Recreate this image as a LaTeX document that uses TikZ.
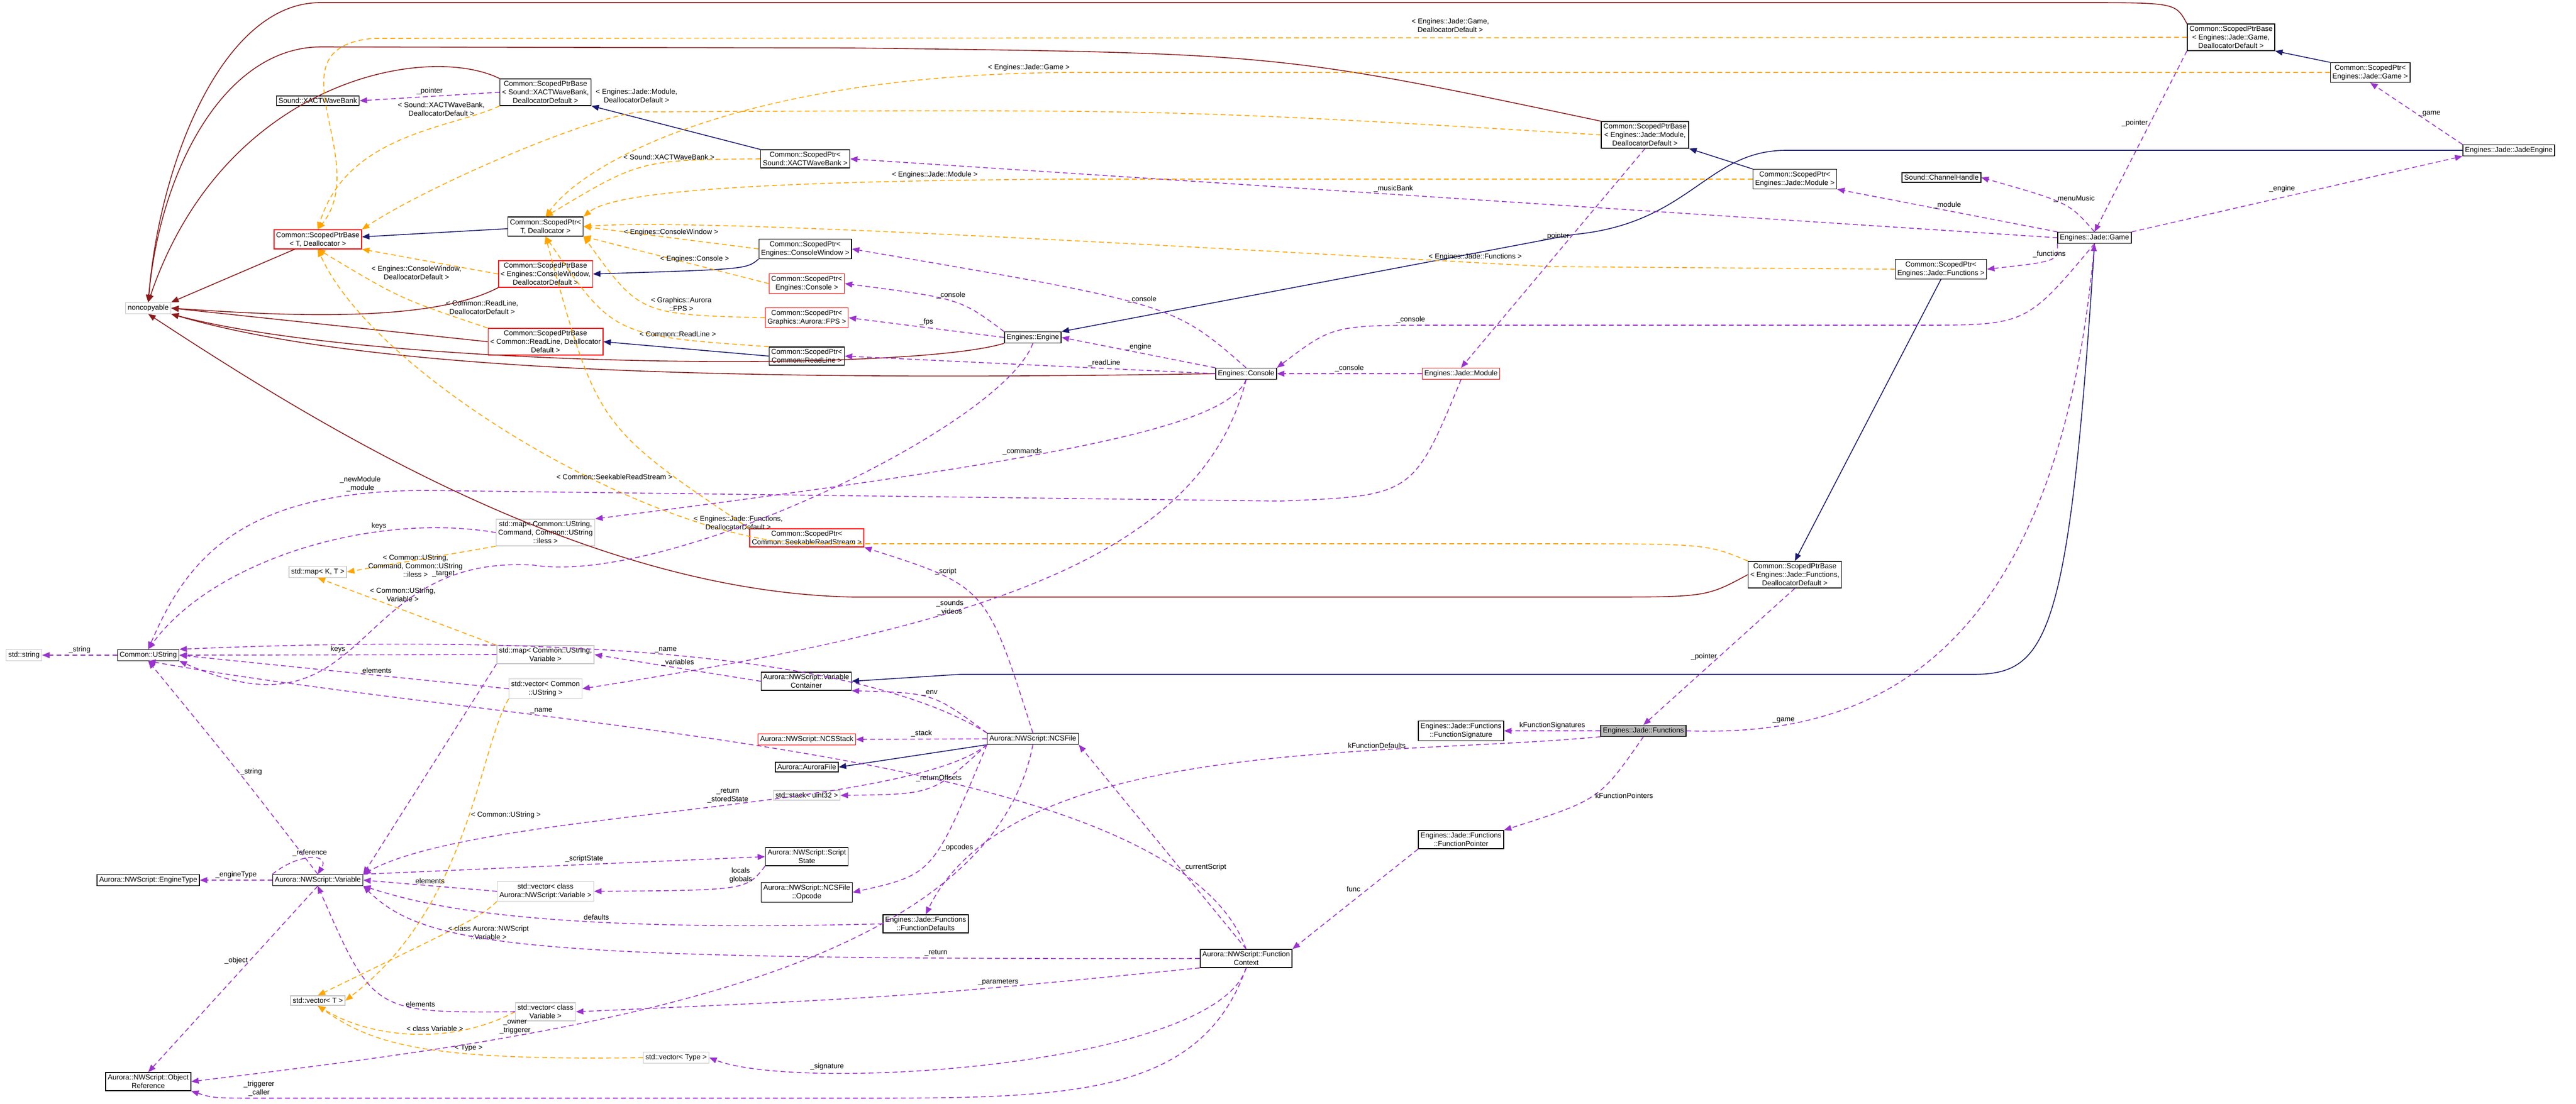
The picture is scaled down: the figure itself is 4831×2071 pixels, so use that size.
\documentclass[tikz,border=0pt]{standalone}
\usepackage{fontspec}
\setmainfont{Liberation Sans}
\usetikzlibrary{arrows.meta}
\definecolor{inhblue}{HTML}{191970}
\definecolor{privred}{HTML}{8B1A1A}
\definecolor{tmplorange}{HTML}{FFA500}
\definecolor{usepurple}{HTML}{9A32CD}

\begin{document}
\begin{tikzpicture}[x=1pt, y=-1pt,
    cls/.style={draw=black, fill=white, line width=1.5pt, align=center, inner sep=4pt, font=\fontsize{13.5}{16}\selectfont},
    ext/.style={cls, draw=gray!45},
    undoc/.style={cls, draw=red},
    inh/.style={-{Triangle[length=14pt,width=11pt]}, draw=inhblue, line width=1.6pt},
    priv/.style={-{Triangle[length=14pt,width=11pt]}, draw=privred, line width=1.6pt},
    tmpl/.style={-{Triangle[length=14pt,width=11pt]}, draw=tmplorange, line width=1.6pt, dash pattern=on 9pt off 6pt},
    use/.style={-{Triangle[length=14pt,width=11pt]}, draw=usepurple, line width=1.6pt, dash pattern=on 9pt off 6pt},
    lbl/.style={font=\fontsize{13.5}{16}\selectfont, align=center, text=black, fill=none, draw=none}]

    \useasboundingbox (0,0) rectangle (4831,2071);

    % Smart pointer classes
    \node[ext] (noncopy) at (278,578) {noncopyable};
    \node[cls] (xwb) at (596,189) {Sound::XACTWaveBank};
    \node[cls] (spbsnd) at (1023,173) {Common::ScopedPtrBase\\< Sound::XACTWaveBank,\\ DeallocatorDefault >};
    \node[undoc] (spbt) at (596,449) {Common::ScopedPtrBase\\< T, Deallocator >};
    \node[cls] (spt) at (1023,425) {Common::ScopedPtr<\\ T, Deallocator >};
    \node[cls] (spsnd) at (1510,298) {Common::ScopedPtr<\\ Sound::XACTWaveBank >};
    \node[cls] (spcw) at (1510,467) {Common::ScopedPtr<\\ Engines::ConsoleWindow >};
    \node[undoc] (spbcw) at (1023,514) {Common::ScopedPtrBase\\< Engines::ConsoleWindow,\\ DeallocatorDefault >};
    \node[undoc] (spcon) at (1513,532) {Common::ScopedPtr<\\ Engines::Console >};
    \node[undoc] (spfps) at (1513,596) {Common::ScopedPtr<\\ Graphics::Aurora::FPS >};
    \node[undoc] (spbrl) at (1023,641) {Common::ScopedPtrBase\\< Common::ReadLine, Deallocator\\ Default >};
    \node[cls] (sprl) at (1513,668) {Common::ScopedPtr<\\ Common::ReadLine >};
    \node[cls] (spbmod) at (3085,253) {Common::ScopedPtrBase\\< Engines::Jade::Module,\\ DeallocatorDefault >};
    \node[cls] (spbgame) at (4184,70) {Common::ScopedPtrBase\\< Engines::Jade::Game,\\ DeallocatorDefault >};
    \node[cls] (spgame) at (4445,136) {Common::ScopedPtr<\\ Engines::Jade::Game >};
    \node[cls] (spmod) at (3366,336) {Common::ScopedPtr<\\ Engines::Jade::Module >};
    \node[cls] (spfun) at (3640,505) {Common::ScopedPtr<\\ Engines::Jade::Functions >};
    \node[cls] (spbfun) at (3366,1078) {Common::ScopedPtrBase\\< Engines::Jade::Functions,\\ DeallocatorDefault >};
    \node[undoc] (spsrs) at (1513,1009) {Common::ScopedPtr<\\ Common::SeekableReadStream >};

    % Engine classes
    \node[cls] (engine) at (1937,633) {Engines::Engine};
    \node[cls] (console) at (2337,701) {Engines::Console};
    \node[undoc] (module) at (2740,701) {Engines::Jade::Module};
    \node[cls] (jadeeng) at (4705,282) {Engines::Jade::JadeEngine};
    \node[cls] (chan) at (3641,333) {Sound::ChannelHandle};
    \node[cls] (game) at (3928,446) {Engines::Jade::Game};
    \node[cls, fill=gray!55] (functions) at (3082,1371) {Engines::Jade::Functions};
    \node[cls] (funsig) at (2740,1371) {Engines::Jade::Functions\\ ::FunctionSignature};
    \node[cls] (funptr) at (2740,1575) {Engines::Jade::Functions\\ ::FunctionPointer};
    \node[cls] (fundef) at (1736,1733) {Engines::Jade::Functions\\ ::FunctionDefaults};

    % Strings and containers
    \node[ext] (stdstr) at (45,1229) {std::string};
    \node[cls] (ustr) at (278,1229) {Common::UString};
    \node[ext] (mapcmd) at (1023,999) {std::map< Common::UString,\\ Command, Common::UString\\ ::iless >};
    \node[ext] (mapkt) at (596,1073) {std::map< K, T >};
    \node[ext] (mapvar) at (1023,1228) {std::map< Common::UString,\\ Variable >};
    \node[ext] (vecustr) at (1023,1292) {std::vector< Common\\ ::UString >};
    \node[ext] (vecavar) at (1023,1672) {std::vector< class\\ Aurora::NWScript::Variable >};
    \node[ext] (vect) at (596,1877) {std::vector< T >};
    \node[ext] (veccvar) at (1023,1898) {std::vector< class\\ Variable >};
    \node[ext] (vectype) at (1268,1984) {std::vector< Type >};
    \node[ext] (stack) at (1513,1492) {std::stack< uint32 >};

    % NWScript
    \node[cls] (varcont) at (1512,1278) {Aurora::NWScript::Variable\\ Container};
    \node[undoc] (ncsstack) at (1513,1387) {Aurora::NWScript::NCSStack};
    \node[cls] (ncsfile) at (1937,1386) {Aurora::NWScript::NCSFile};
    \node[cls] (aurfile) at (1513,1439) {Aurora::AuroraFile};
    \node[cls] (sstate) at (1513,1607) {Aurora::NWScript::Script\\ State};
    \node[cls] (opcode) at (1513,1674) {Aurora::NWScript::NCSFile\\ ::Opcode};
    \node[cls] (variable) at (596,1651) {Aurora::NWScript::Variable};
    \node[cls] (engtype) at (278,1651) {Aurora::NWScript::EngineType};
    \node[cls] (objref) at (278,2029) {Aurora::NWScript::Object\\ Reference};
    \node[cls] (functx) at (2337,1798) {Aurora::NWScript::Function\\ Context};

    % Private inheritance
    \draw[priv] (spbgame.north west) .. controls (4080,5) .. (3900,5) -- (600,5) .. controls (420,5) and (300,300) .. (noncopy.north);
    \draw[priv] (spbmod.north west) .. controls (2400,100) .. (1600,90) -- (600,88) .. controls (420,90) and (300,320) .. (noncopy.north);
    \draw[priv] (spbsnd.north west) .. controls (800,80) and (420,150) .. (noncopy.north);
    \draw[priv] (spbt) -- (noncopy.north east);
    \draw[priv] (spbcw.south west) .. controls (800,610) and (500,590) .. (noncopy.east);
    \draw[priv] (spbrl.west) -- (noncopy.east);
    \draw[priv] (console.west) .. controls (1400,715) and (700,700) .. (noncopy.south east);
    \draw[priv] (engine.south west) .. controls (1700,700) and (700,690) .. (noncopy.south east);
    \draw[priv] (spbfun.west) .. controls (3200,1120) .. (3000,1120) -- (1600,1120) .. controls (1100,1110) and (600,800) .. (noncopy.south);

    % Public inheritance
    \draw[inh] (spsnd.north west) -- (spbsnd.south east);
    \draw[inh] (spt) -- (spbt);
    \draw[inh] (spcw.south west) .. controls (1400,505) .. (spbcw.east);
    \draw[inh] (sprl.west) -- (spbrl.east);
    \draw[inh] (spmod.north west) -- (spbmod.south east);
    \draw[inh] (spgame.north west) -- (spbgame.south east);
    \draw[inh] (spfun.south) -- (spbfun.north);
    \draw[inh] (jadeeng.west) -- (3350,282) .. controls (3200,282) and (3170,420) .. (2950,440) -- (engine.north east);
    \draw[inh] (game.south) .. controls (3880,1200) and (3840,1265) .. (3700,1265) -- (1800,1265) -- (varcont.east);
    \draw[inh] (ncsfile.south west) -- (aurfile.east);

    % Template instances
    \draw[tmpl] (spbsnd.south west) .. controls (850,240) and (650,250) .. node[lbl, pos=0.05, left=10pt] {< Sound::XACTWaveBank,\\ DeallocatorDefault >} (spbt.north);
    \draw[tmpl] (spbgame.west) -- (700,72) .. controls (500,90) and (700,300) .. (spbt.north);
    \node[lbl] (lgame) at (2720,48) {< Engines::Jade::Game,\\ DeallocatorDefault >};
    \draw[tmpl] (spbmod.west) .. controls (2200,205) .. (1200,210) .. controls (1100,220) and (800,350) .. node[lbl, pos=0.02, above=14pt] {< Engines::Jade::Module,\\ DeallocatorDefault >} (spbt.north east);
    \draw[tmpl] (spbcw.west) -- node[lbl, below=8pt, pos=0.6] {< Engines::ConsoleWindow,\\ DeallocatorDefault >} (spbt.south east);
    \draw[tmpl] (spbrl.north west) .. controls (750,560) .. node[lbl, pos=0.3, right=30pt] {< Common::ReadLine,\\ DeallocatorDefault >} (spbt.south);
    \draw[tmpl] (spbfun.north west) .. controls (3200,1020) .. (2900,1020) -- (1500,1020) .. controls (1200,1000) and (700,700) .. node[lbl, pos=0.12, above=4pt] {< Engines::Jade::Functions,\\ DeallocatorDefault >} (spbt.south);
    \draw[tmpl] (spsnd.west) .. controls (1200,300) .. node[lbl, pos=0.35, above] {< Sound::XACTWaveBank >} (spt.north);
    \draw[tmpl] (spgame.west) -- (2000,136) .. controls (1400,140) and (1100,300) .. node[lbl, pos=0.04, above] {< Engines::Jade::Game >} (spt.north);
    \draw[tmpl] (spmod.west) -- (2000,336) .. controls (1400,340) and (1150,360) .. node[lbl, pos=0.15, above] {< Engines::Jade::Module >} (spt.north east);
    \draw[tmpl] (spcw.west) -- node[lbl, above] {< Engines::ConsoleWindow >} (spt.east);
    \draw[tmpl] (spcon.west) -- node[lbl, above, pos=0.4] {< Engines::Console >} (spt.south east);
    \draw[tmpl] (spfps.west) .. controls (1200,590) .. node[lbl, pos=0.3, above] {< Graphics::Aurora\\ ::FPS >} (spt.south east);
    \draw[tmpl] (sprl.north west) .. controls (1150,630) .. node[lbl, pos=0.25, above] {< Common::ReadLine >} (spt.south);
    \draw[tmpl] (spsrs.north west) .. controls (1120,800) .. node[lbl, pos=0.2, left] {< Common::SeekableReadStream >} (spt.south);
    \draw[tmpl] (spfun.west) -- (2900,500) .. controls (2000,450) and (1300,410) .. node[lbl, pos=0.05, above] {< Engines::Jade::Functions >} (spt.east);
    \draw[tmpl] (mapcmd.south west) -- node[lbl, below left=2pt, pos=0.2] {< Common::UString,\\ Command, Common::UString\\ ::iless >} (mapkt.east);
    \draw[tmpl] (mapvar.north west) -- node[lbl, right=10pt, pos=0.75] {< Common::UString,\\ Variable >} (mapkt.south);
    \draw[tmpl] (vecustr.south west) .. controls (900,1400) and (880,1700) .. node[lbl, pos=0.45, right] {< Common::UString >} (vect.east);
    \draw[tmpl] (vecavar.south west) .. controls (900,1720) .. node[lbl, pos=0.6, right] {< class Aurora::NWScript\\ ::Variable >} (vect.north);
    \draw[tmpl] (veccvar.west) .. controls (850,1960) and (700,1950) .. node[lbl, pos=0.4, above] {< class Variable >} (vect.south);
    \draw[tmpl] (vectype.west) .. controls (800,1990) and (700,1960) .. node[lbl, pos=0.35, above] {< Type >} (vect.south);

    % Usage relations
    \draw[use] (spbsnd.west) -- node[lbl, above] {\_pointer} (xwb.east);
    \draw[use] (spbgame.south west) -- node[lbl, left, pos=0.4] {\_pointer} (game.north);
    \draw[use] (spbmod.south) -- node[lbl, left, pos=0.4] {\_pointer} (module.north);
    \draw[use] (spbfun.south) -- node[lbl, left, pos=0.5] {\_pointer} (functions.north);
    \draw[use] (game.west) -- node[lbl, above, pos=0.55] {\_musicBank} (spsnd.east);
    \draw[use] (game.north west) -- node[lbl, above, pos=0.5] {\_module} (spmod.south east);
    \draw[use] (game.north) .. controls (3880,380) .. node[lbl, right, pos=0.6] {\_menuMusic} (chan.east);
    \draw[use] (game.north east) -- node[lbl, above left, pos=0.5] {\_engine} (jadeeng.south west);
    \draw[use] (jadeeng.north west) -- node[lbl, right, pos=0.5] {\_game} (spgame.south);
    \draw[use] (game.south west) .. controls (3860,490) .. node[lbl, above, pos=0.5] {\_functions} (spfun.east);
    \draw[use] (game.south) .. controls (3800,610) .. (3600,610) -- (2700,610) .. controls (2500,610) .. node[lbl, above, pos=0.1] {\_console} (console.north east);
    \draw[use] (console.north) .. controls (2200,570) .. node[lbl, above, pos=0.5] {\_console} (spcw.east);
    \draw[use] (engine.north west) .. controls (1800,560) .. node[lbl, above, pos=0.5] {\_console} (spcon.east);
    \draw[use] (engine.west) -- node[lbl, above] {\_fps} (spfps.east);
    \draw[use] (console.west) -- node[lbl, above, pos=0.3] {\_readLine} (sprl.east);
    \draw[use] (console.north west) -- node[lbl, above, pos=0.5] {\_engine} (engine.east);
    \draw[use] (module.west) -- node[lbl, above] {\_console} (console.east);
    \draw[use] (console.south) .. controls (2300,800) and (2000,860) .. node[lbl, above, pos=0.6] {\_commands} (mapcmd.north east);
    \draw[use] (module.south) .. controls (2650,930) .. (2400,940) -- (800,920) .. controls (450,920) and (350,1050) .. node[lbl, pos=0.13, above] {\_newModule\\ \_module} (ustr.north);
    \draw[use] (engine.south) .. controls (1880,800) and (1250,1100) .. (1000,1060) .. controls (650,1040) and (700,1400) .. node[lbl, pos=0.2, above] {\_target} (ustr.south east);
    \draw[use] (mapcmd.west) .. controls (700,960) and (400,1050) .. node[lbl, above, pos=0.3] {keys} (ustr.north);
    \draw[use] (mapvar.west) -- node[lbl, above] {keys} (ustr.east);
    \draw[use] (vecustr.west) -- node[lbl, above, pos=0.4] {elements} (ustr.east);
    \draw[use] (ustr.west) -- node[lbl, above] {\_string} (stdstr.east);
    \draw[use] (varcont.west) -- node[lbl, above] {\_variables} (mapvar.east);
    \draw[use] (console.south) .. controls (2250,1060) and (1800,1180) .. node[lbl, pos=0.6, left] {\_sounds\\ \_videos} (vecustr.east);
    \draw[use] (ncsfile.north west) .. controls (1600,1220) and (1000,1190) .. node[lbl, pos=0.5, above] {\_name} (ustr.north east);
    \draw[use] (functx.north) .. controls (2200,1400) and (1000,1370) .. node[lbl, pos=0.7, above] {\_name} (ustr.south);
    \draw[use] (mapvar.south west) -- (variable.north east);
    \draw[use] (variable.north) .. controls (450,1450) .. node[lbl, right, pos=0.5] {\_string} (ustr.south);
    \draw[use] (variable.north west) .. controls (560,1600) and (620,1600) .. node[lbl, above] {\_reference} (variable.north);
    \draw[use] (variable.west) -- node[lbl, above] {\_engineType} (engtype.east);
    \draw[use] (variable.south) -- node[lbl, left, pos=0.4] {\_object} (objref.north);
    \draw[use] (ncsfile.south west) .. controls (1700,1520) and (900,1520) .. node[lbl, pos=0.45, above] {\_return\\ \_storedState} (variable.north east);
    \draw[use] (variable.north east) -- node[lbl, above, pos=0.55] {\_scriptState} (sstate.west);
    \draw[use] (sstate.south west) .. controls (1400,1670) .. node[lbl, above, pos=0.4] {locals\\ globals} (vecavar.east);
    \draw[use] (vecavar.west) -- node[lbl, above] {elements} (variable.east);
    \draw[use] (fundef.west) .. controls (1000,1750) and (800,1700) .. node[lbl, pos=0.35, above] {defaults} (variable.south east);
    \draw[use] (functx.west) .. controls (1000,1800) and (800,1780) .. node[lbl, pos=0.15, above] {\_return} (variable.south east);
    \draw[use] (veccvar.west) .. controls (700,1900) .. node[lbl, pos=0.3, above] {elements} (variable.south);
    \draw[use] (functx.south west) .. controls (1700,1870) .. node[lbl, pos=0.3, above] {\_parameters} (veccvar.east);
    \draw[use] (functx.south) .. controls (2280,2000) and (1500,2050) .. node[lbl, pos=0.75, above] {\_signature} (vectype.east);
    \draw[use] (functx.south) .. controls (2250,2060) and (2000,2060) .. (1600,2060) -- (500,2060) .. controls (400,2060) .. node[lbl, pos=0.05, above] {\_triggerer\\ \_caller} (objref.south east);
    \draw[use] (ncsfile.south) .. controls (1850,1850) and (1000,1950) .. node[lbl, pos=0.7, above] {\_owner\\ \_triggerer} (objref.east);
    \draw[use] (ncsfile.north) .. controls (1850,1100) .. node[lbl, pos=0.7, above] {\_script} (spsrs.south east);
    \draw[use] (ncsfile.north west) .. controls (1750,1300) .. node[lbl, pos=0.5, above] {\_env} (varcont.south east);
    \draw[use] (ncsfile.west) -- node[lbl, above] {\_stack} (ncsstack.east);
    \draw[use] (ncsfile.south west) .. controls (1750,1490) .. node[lbl, pos=0.4, above] {\_returnOffsets} (stack.east);
    \draw[use] (ncsfile.south west) .. controls (1750,1640) .. node[lbl, pos=0.4, right] {\_opcodes} (opcode.east);
    \draw[use] (functx.north) -- node[lbl, right, pos=0.4] {\_currentScript} (ncsfile.south east);
    \draw[use] (functions.west) -- node[lbl, above] {kFunctionSignatures} (funsig.east);
    \draw[use] (functions.south west) .. controls (2600,1420) and (1900,1380) .. node[lbl, pos=0.3, above] {kFunctionDefaults} (fundef.north);
    \draw[use] (functions.south) .. controls (3000,1500) .. node[lbl, pos=0.5, right] {kFunctionPointers} (funptr.north east);
    \draw[use] (funptr.south west) -- node[lbl, left=10pt, pos=0.4] {func} (functx.north east);
    \draw[use] (functions.east) .. controls (3450,1380) and (3850,1300) .. node[lbl, pos=0.2, above] {\_game} (game.south);

\end{tikzpicture}
\end{document}
